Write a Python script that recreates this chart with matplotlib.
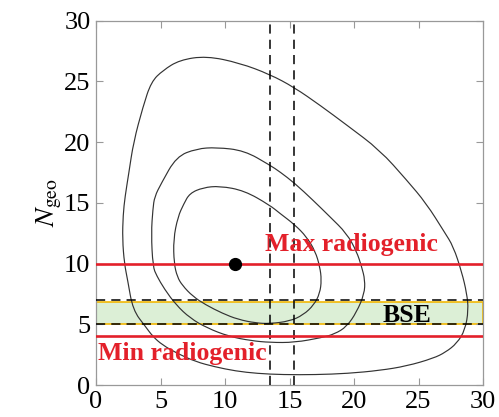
import matplotlib
matplotlib.use('Agg')
from matplotlib import pyplot as plt
from matplotlib.patches import Rectangle, PathPatch
from matplotlib.path import Path

red = '#e3202a'

# contour lines (x, N_geo), clockwise from the top
outer_x = [8.56, 11.14, 13.47, 15.36, 17.4, 19.43, 22.0, 24.08, 25.6, 27.0, 27.7,
           28.35, 28.74, 28.87, 28.61, 27.97, 27.1, 26.15, 24.08, 22.0, 19.5, 17.0,
           14.5, 12.5, 10.83, 9.2, 7.73, 6.3, 5.14, 4.4, 3.84, 2.86, 2.45, 2.2,
           2.05, 2.1, 2.25, 2.55, 2.91, 3.64, 4.28, 5.19, 6.48]
outer_y = [27.08, 26.5, 25.57, 24.5, 23.0, 21.4, 19.34, 16.87, 14.95, 12.6, 11.4,
           9.3, 7.55, 6.17, 4.53, 3.43, 2.7, 2.2, 1.56, 1.2, 0.95, 0.85,
           0.85, 0.95, 1.15, 1.5, 1.92, 2.6, 3.3, 4.0, 4.8, 6.17, 8.64, 10.0,
           12.0, 14.0, 15.5, 17.5, 20.0, 22.9, 24.96, 25.9, 26.75]

middle_x = [9.33, 11.5, 13.47, 14.25, 15.41, 16.83, 18.13, 19.43, 20.2, 20.59, 20.85,
            20.8, 20.2, 19.43, 18.5, 17.5, 15.4, 13.5, 12.0, 10.3, 8.6, 7.3, 6.2,
            5.3, 4.7, 4.41, 4.28, 4.41, 4.54, 5.06, 6.23, 7.8]
middle_y = [19.56, 19.3, 18.1, 17.55, 16.6, 15.2, 13.85, 12.48, 11.0, 9.74, 8.64,
            7.5, 6.0, 4.8, 4.2, 3.9, 3.5, 3.5, 3.65, 4.0, 4.7, 5.5, 6.6,
            7.9, 9.0, 9.74, 12.48, 14.5, 15.5, 16.6, 18.8, 19.45]

inner_x = [9.59, 11.5, 13.47, 14.25, 15.4, 16.32, 17.0, 17.35, 17.48, 17.35, 16.9,
           16.06, 15.0, 13.47, 12.4, 11.0, 9.8, 8.5, 7.5, 6.69, 6.3, 6.05, 6.0,
           6.35, 6.8, 7.26, 8.3]
inner_y = [16.38, 16.0, 14.8, 14.13, 13.2, 12.2, 11.0, 9.74, 8.64, 7.55, 6.6,
           5.76, 5.25, 5.05, 5.1, 5.4, 5.9, 6.6, 7.3, 8.2, 8.9, 10.0, 12.0,
           13.85, 14.9, 15.78, 16.25]

best_fit = (10.75, 10.0)
max_radiogenic = 10.0
min_radiogenic = 4.0
bse_band = (5.0, 6.8)
bse_dashed = [5.0, 7.0]
x_dashed = [13.45, 15.35]


def smooth_loop(xs, ys):
    # closed quadratic bezier path using the read points as control points
    pts = list(zip(xs, ys))
    n = len(pts)
    mid = [((pts[i][0] + pts[(i + 1) % n][0]) / 2, (pts[i][1] + pts[(i + 1) % n][1]) / 2)
           for i in range(n)]
    verts = [mid[-1]]
    codes = [Path.MOVETO]
    for i in range(n):
        verts += [pts[i], mid[i]]
        codes += [Path.CURVE3, Path.CURVE3]
    return Path(verts, codes)


plt.rcParams['font.family'] = ['Liberation Serif', 'DejaVu Serif']
plt.rcParams['mathtext.fontset'] = 'stix'

fig = plt.figure(figsize=(4.99, 4.17), dpi=100)
ax = fig.add_axes([0.1924, 0.0767, 0.7756, 0.8741])

ax.add_patch(Rectangle((0, bse_band[0]), 30, bse_band[1] - bse_band[0],
                       facecolor='#dcefd6', edgecolor='#f2b705', lw=1.2, zorder=1))
for y in bse_dashed:
    ax.axhline(y, color='black', lw=1.1, dashes=(6, 4), zorder=3)
for x in x_dashed:
    ax.axvline(x, color='black', lw=1.1, dashes=(6, 4), zorder=3)

for xs, ys in [(outer_x, outer_y), (middle_x, middle_y), (inner_x, inner_y)]:
    ax.add_patch(PathPatch(smooth_loop(xs, ys), facecolor='none',
                           edgecolor='#333333', lw=0.85, zorder=2))

ax.axhline(max_radiogenic, color=red, lw=1.9, zorder=4)
ax.axhline(min_radiogenic, color=red, lw=1.9, zorder=4)
ax.plot(*best_fit, 'o', color='black', ms=8.5, zorder=5)

ax.text(13.1, 11.0, 'Max radiogenic', color=red, fontsize=18.5, fontweight='bold', va='baseline')
ax.text(0.15, 2.05, 'Min radiogenic', color=red, fontsize=18.5, fontweight='bold', va='baseline')
ax.text(22.2, 5.2, 'BSE', color='black', fontsize=18.5, fontweight='bold', va='baseline')

ax.set_xlim(0, 30)
ax.set_ylim(0, 30)
ax.set_xticks(range(0, 31, 5))
ax.set_yticks(range(0, 31, 5))
ax.tick_params(direction='in', top=True, right=True, length=5, width=0.8,
               color='#999999', labelsize=19, pad=4)
for s in ax.spines.values():
    s.set_color('#999999')
    s.set_linewidth(0.9)
ax.set_ylabel(r'$N_{\mathrm{geo}}$', fontsize=20, labelpad=0)

fig.savefig('out.png', dpi=100)
